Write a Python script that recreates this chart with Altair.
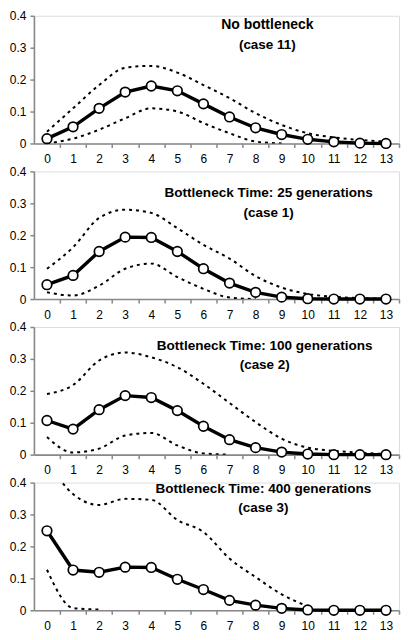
import altair as alt
import pandas as pd

x_vals = list(range(14))
y_ticks = [0.0, 0.1, 0.2, 0.3, 0.4]

# Panel 1: No bottleneck (case 11)
p1_mean = [0.015, 0.052, 0.110, 0.161, 0.180, 0.165, 0.124, 0.083, 0.049, 0.028, 0.013, 0.005, 0.001, 0.0]
p1_upper = [0.037, 0.110, 0.183, 0.237, 0.243, 0.222, 0.183, 0.142, 0.095, 0.058, 0.032, 0.019, 0.011, 0.006]
p1_lower = [0.0, 0.015, 0.043, 0.079, 0.110, 0.100, 0.064, 0.032, 0.006, 0.0, None, None, None, None]

# Panel 2: 25 generations (case 1)
p2_mean = [0.045, 0.074, 0.149, 0.194, 0.193, 0.149, 0.095, 0.050, 0.021, 0.006, 0.001, 0.0, 0.0, 0.0]
p2_upper = [0.095, 0.162, 0.254, 0.280, 0.270, 0.222, 0.170, 0.127, 0.072, 0.036, 0.016, 0.007, 0.003, 0.001]
p2_lower = [0.021, 0.011, 0.042, 0.095, 0.111, 0.069, 0.032, 0.005, 0.0, None, None, None, None, None]

# Panel 3: 100 generations (case 2)
p3_mean = [0.107, 0.080, 0.141, 0.185, 0.179, 0.138, 0.089, 0.047, 0.022, 0.008, 0.002, 0.0, 0.0, 0.0]
p3_upper = [0.190, 0.218, 0.295, 0.320, 0.305, 0.274, 0.222, 0.162, 0.102, 0.050, 0.022, 0.012, 0.006, 0.002]
p3_lower = [0.055, 0.007, 0.019, 0.060, 0.068, 0.029, 0.004, 0.0, None, None, None, None, None, None]

# Panel 4: 400 generations (case 3)
p4_mean = [0.249, 0.126, 0.119, 0.135, 0.134, 0.097, 0.065, 0.031, 0.016, 0.006, 0.001, 0.0, 0.0, 0.0]
p4_upper = [0.470, 0.364, 0.330, 0.349, 0.346, 0.283, 0.245, 0.162, 0.104, 0.050, 0.012, None, None, None]
p4_lower = [0.127, 0.007, 0.002, None, None, None, None, None, None, None, None, None, None, None]

panel_line1 = [
    "No bottleneck",
    "Bottleneck Time:  25 generations",
    "Bottleneck Time: 100 generations",
    "Bottleneck Time: 400 generations",
]
panel_line2 = ["(case 11)", "(case 1)", "(case 2)", "(case 3)"]

series = [
    (p1_mean, p1_upper, p1_lower),
    (p2_mean, p2_upper, p2_lower),
    (p3_mean, p3_upper, p3_lower),
    (p4_mean, p4_upper, p4_lower),
]

# annotation placement and sizes (style, not data)
TITLE_X = [8.45, 8.5, 8.35, 8.3]
TITLE_Y1 = [0.372, 0.332, 0.340, 0.381]
TITLE_Y2 = [0.309, 0.270, 0.280, 0.320]
TITLE_FS1 = [14, 13.6, 13.6, 13.6]

W, H = 366, 128
HALF = W / 14 / 2

x_scale = alt.Scale(domain=[-0.5, 13.5], nice=False, zero=False)
y_scale = alt.Scale(domain=[0, 0.4], nice=False)

x_axis = alt.Axis(values=x_vals, title=None, tickOffset=HALF, labelOffset=-HALF,
                  tickSize=4, labelPadding=6, grid=False, domainWidth=1.6, tickWidth=1.5,
                  labelAngle=0, labelFontSize=12, labelFont="Liberation Sans", labelColor="black")
y_axis = alt.Axis(values=y_ticks, title=None, tickSize=4, labelPadding=4, grid=False,
                  domainWidth=1.6, tickWidth=1.5, labelFontSize=12,
                  labelFont="Liberation Sans", labelColor="black",
                  labelExpr="datum.value == 0 ? '0' : format(datum.value, '.1f')")


def make_series_df(xs, ys):
    rows = [(a, b) for a, b in zip(xs, ys) if b is not None]
    return pd.DataFrame(rows, columns=["x", "y"])


def text_layer(tx, ty, label, fs):
    tdf = pd.DataFrame({"tx": [tx], "ty": [ty], "label": [label]})
    return alt.Chart(tdf).mark_text(fontWeight="bold", fontSize=fs, align="center",
                                    baseline="middle", color="black",
                                    font="Liberation Sans").encode(
        x=alt.X("tx:Q", scale=x_scale, axis=x_axis),
        y=alt.Y("ty:Q", scale=y_scale, axis=y_axis),
        text="label:N",
    )


def panel(i):
    mean, upper, lower = series[i]
    dm = make_series_df(x_vals, mean)
    du = make_series_df(x_vals, upper)
    dl = make_series_df(x_vals, lower)

    X = alt.X("x:Q", scale=x_scale, axis=x_axis)
    Y = alt.Y("y:Q", scale=y_scale, axis=y_axis)

    dash = dict(color="black", strokeWidth=2, strokeDash=[3, 4], interpolate="monotone", clip=True)
    up = alt.Chart(du).mark_line(**dash).encode(x=X, y=Y)
    lo = alt.Chart(dl).mark_line(**dash).encode(x=X, y=Y)
    ln = alt.Chart(dm).mark_line(color="black", strokeWidth=3.4).encode(x=X, y=Y)
    pts = alt.Chart(dm).mark_point(filled=True, fill="white", stroke="black", strokeWidth=1.7,
                                   size=92, opacity=1, shape="circle").encode(x=X, y=Y)

    t1 = text_layer(TITLE_X[i], TITLE_Y1[i], panel_line1[i], TITLE_FS1[i])
    t2 = text_layer(TITLE_X[i], TITLE_Y2[i], panel_line2[i], 13.5)
    return alt.layer(up, lo, ln, pts, t1, t2).properties(width=W, height=H)


chart = alt.vconcat(*[panel(i) for i in range(4)], spacing=28, bounds="flush").properties(
    padding={"left": 0, "top": 0, "right": 0, "bottom": 0}
).configure_view(stroke=None).configure_axis(
    domainColor="black", tickColor="black",
).configure(background="white")

chart.save("out.html", embed_options={"renderer": "svg", "actions": False})
